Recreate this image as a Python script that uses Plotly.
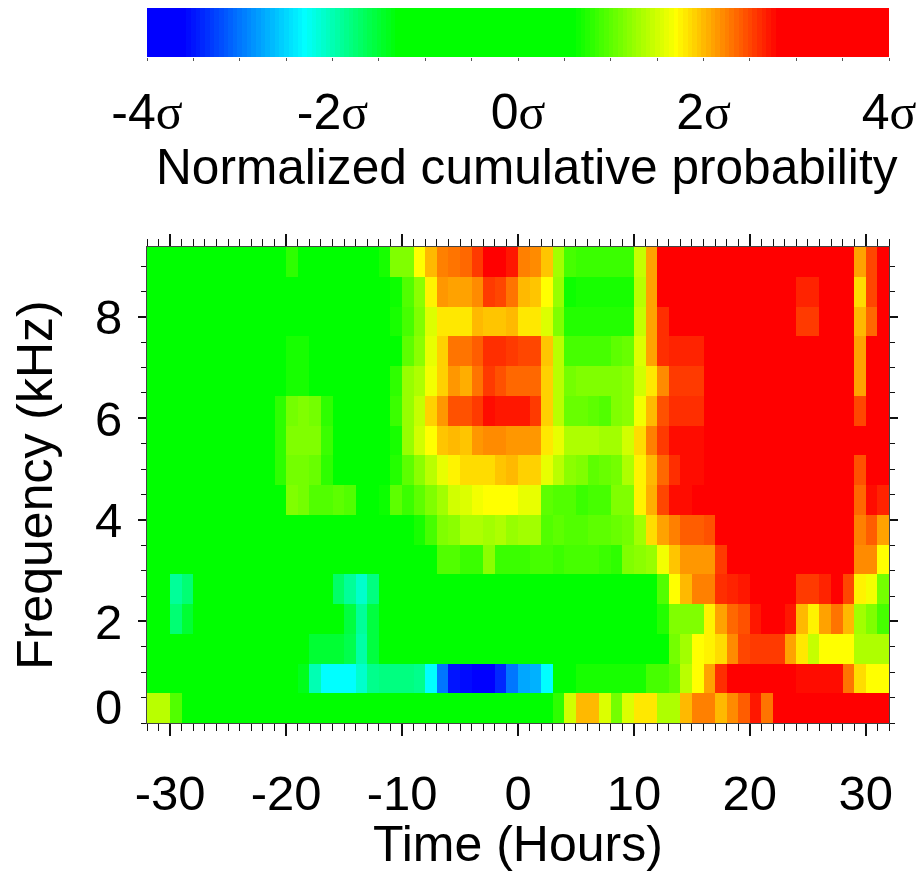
import plotly.graph_objects as go

W, H = 922, 872
R = 3.5  # saturated red cells

time_centers = [h + 0.5 for h in range(-32, 32)]
freq_centers = [(r + 0.5) * 0.5859375 for r in range(16)]

row00 = [1.4, 1.4, .95] + [0]*32 + [.8, 1.5, 2.0, 2.0, 1.55, 1.1, 1.55, 1.8, 1.8, 1.35, 1.35, 2.0, 2.25, 2.25, 2.0, 2.2, 2.4, 2.7, 2.3] + [3.3]*10
row01 = [0]*13 + [-1.4, -2.0, -2.3, -2.3, -2.3, -2.1, -1.85, -1.8, -1.8, -1.8, -1.85, -2.3, -3.0, -3.5, -3.55, -3.7, -3.7, -3.4, -3.0, -2.75, -2.7, -2.3, 0, .6, .7, .7, .7, .7, .7, .7, .9, .9, 1.0, 1.4, 1.7, 2.1, 2.6, 3.3, 3.3, 3.3, 3.3, 3.3, 3.3, 2.75, 2.75, 2.75, 2.75, 2.3, 1.85, 1.7, 1.7]
row02 = [0]*14 + [-1.5, -1.5, -1.5, -1.6, -1.95, -1.55] + [0]*25 + [1.1, 1.3, 1.7, 1.75, 1.85, 2.2, 2.5, 2.55, 2.55, 2.55, 2.1, 1.8, 1.45, 1.7, 1.7, 1.7, 1.35, 1.35, 1.35]
row03 = [0, 0, -1.75, -1.5] + [0]*13 + [-1.55, -1.9, -1.55] + [0]*24 + [.75, 1.15, 1.15, 1.15, 1.75, 2.1, 2.35, 2.45, 2.7, 3.2, 3.2, 2.7, 2.0, 1.75, 2.1, 2.3, 2.0, 1.3, 1.15, .9]
row04 = [0, 0, -1.9, -1.75] + [0]*12 + [-1.7, -1.9, -2.1, -1.8] + [0]*24 + [.95, 1.7, 2.0, 2.25, 2.25, 2.6, 2.65, 2.7, 3.2, 3.2, 3.2, 3.2, 2.55, 2.55, 2.65, 3.0, 2.5, 1.75, 1.65, 1.1]
row05 = [0]*24 + [.6, .95, .95, .85, .85, 1.2, .85, .85, .85, .9, .9, .85, .9, .9, .9, .85, .8, 1.15, 1.2, 1.25, 1.65, 1.95, 2.15, 2.15, 2.15, 2.55] + [R]*10 + [2.9, 2.2, 2.2, 1.7]
row06 = [0]*23 + [.7, .9, 1.15, 1.2, 1.35, 1.35, 1.3, 1.35, 1.25, 1.3, 1.3, .95, 1.0, .95, .95, 1.0, 1.0, 1.05, 1.1, 1.3, 1.85, 2.1, 2.25, 2.4, 2.4, 2.45] + [R]*12 + [2.25, 2.4, 2.1]
row07 = [0]*12 + [1.15, 1.1, .95, .95, 1.0, .95, 0, 0, .65, 1.0, .85, 1.0, 1.15, 1.3, 1.5, 1.55, 1.65, 1.7, 1.7, 1.7, 1.6, 1.6, 1.0, .95, .95, .85, .9, .9, 1.15, 1.15, 1.75, 2.05, 2.5, 2.75, 2.75, 2.8] + [R]*13 + [2.35, 2.75, 2.65]
row08 = [0]*11 + [.8, 1.1, 1.1, 1.05, .8] + [0]*5 + [.75, 1.0, 1.2, 1.4, 1.6, 1.75, 1.85, 1.85, 1.85, 1.95, 2.0, 1.9, 1.9, 1.6, 1.4, 1.2, 1.15, 1.0, 1.05, 1.1, 1.35, 1.75, 2.0, 2.35, 2.6, 2.75, 2.75] + [R]*13 + [2.45, R, R]
row09 = [0]*11 + [.8, 1.15, 1.15, 1.15, .85] + [0]*5 + [.7, 1.25, 1.5, 1.7, 1.95, 2.0, 1.95, 2.15, 2.2, 2.2, 2.15, 2.15, 2.15, 1.8, 1.6, 1.35, 1.35, 1.35, 1.3, 1.3, 1.5, 1.85, 2.25, 2.55, 2.75, 2.75, 2.75] + [R]*16
row10 = [0]*11 + [.8, 1.1, 1.15, 1.1, .8] + [0]*5 + [.85, 1.25, 1.45, 1.9, 2.15, 2.45, 2.45, 2.55, 2.75, 2.7, 2.7, 2.7, 2.55, 1.9, 1.4, 1.05, 1.05, 1.0, .95, 1.15, 1.2, 1.65, 2.0, 2.45, 2.6, 2.6, 2.6] + [R]*13 + [2.5, R, R]
row11 = [0]*12 + [.7, .7, .6] + [0]*6 + [.8, 1.25, 1.35, 1.65, 1.9, 2.15, 2.05, 2.3, 2.55, 2.45, 2.35, 2.35, 2.35, 1.9, 1.4, 1.1, 1.15, 1.15, 1.15, 1.15, 1.2, 1.5, 1.8, 2.2, 2.55, 2.55, 2.55] + [R]*13 + [2.1, R, R]
row12 = [0]*12 + [.7, .7] + [0]*7 + [.6, 1.0, 1.2, 1.6, 1.9, 2.3, 2.3, 2.4, 2.6, 2.6, 2.55, 2.5, 2.5, 1.95, 1.4, .9, .9, .9, .9, 1.0, 1.05, 1.55, 2.1, 2.6, 2.65, 2.65, 2.65] + [R]*8 + [2.8, 2.8] + [R]*3 + [2.1, R, R]
row13 = [0]*21 + [.7, .9, 1.15, 1.55, 1.8, 1.8, 1.8, 2.0, 1.95, 1.95, 2.0, 1.8, 1.8, 1.55, 1.15, .75, .75, .75, .75, .75, .75, 1.45, 2.1, 2.6, 2.8, 2.8, 2.8] + [R]*8 + [2.55, 2.55] + [R]*3 + [2.0, 2.35, 3.1]
row14 = [0]*21 + [.65, .95, 1.2, 1.75, 2.15, 2.1, 2.1, 2.2, 2.55, 2.5, 2.3, 2.0, 1.95, 1.7, 1.25, .65, .7, .7, .7, .7, .7, 1.4, 2.1] + [R]*12 + [2.65, 2.65] + [R]*3 + [1.85, 2.5, 3.2]
row15 = [0]*12 + [.8] + [0]*7 + [.7, 1.15, 1.15, 1.7, 2.0, 2.25, 2.3, 2.35, 2.55, 2.85, 2.85, 2.7, 2.25, 2.2, 1.95, 1.3, .9, .85, .85, .85, .85, .85, 1.45, 2.1] + [R]*17 + [2.1, 2.5, 3.2]

z_rows = [row00, row01, row02, row03, row04, row05, row06, row07,
          row08, row09, row10, row11, row12, row13, row14, row15]
for i, row in enumerate(z_rows):
    assert len(row) == 64, (i, len(row))

ramp_levels = [-4 + 0.05 * i for i in range(161)]
time_ticks = [-30, -20, -10, 0, 10, 20, 30]
time_labels = ["-30", "-20", "-10", "0", "10", "20", "30"]
freq_ticks = [2, 4, 6, 8]
sigma_ticks = [-4, -2, 0, 2, 4]
SIG = "<span style='font-family:Liberation Serif'>σ</span>"
sigma_labels = [f"{v}{SIG}" for v in sigma_ticks]

colorscale = [
    [0.0, "#0000ff"], [0.05, "#0000ff"], [0.2125, "#00ffff"], [0.3375, "#00ff00"],
    [0.575, "#00ff00"], [0.7125, "#ffff00"], [0.85, "#ff0000"], [1.0, "#ff0000"],
]
FONT = "Liberation Sans"
INK = "#111111"

fig = go.Figure()
fig.add_trace(go.Heatmap(x=time_centers, y=freq_centers, z=z_rows, zmin=-4, zmax=4,
                         colorscale=colorscale, showscale=False, xaxis="x", yaxis="y"))
fig.add_trace(go.Heatmap(x=ramp_levels, y=[0], z=[ramp_levels], zmin=-4, zmax=4,
                         colorscale=colorscale, showscale=False, xaxis="x2", yaxis="y2",
                         hoverinfo="skip"))

xd = [147 / W, 889 / W]
fig.update_layout(
    width=W, height=H, margin=dict(l=0, r=0, t=0, b=0),
    paper_bgcolor="white", plot_bgcolor="white", showlegend=False,
    font=dict(family=FONT, size=49, color="black"),
    xaxis=dict(domain=xd, range=[-32, 32], tickmode="array", tickvals=time_ticks, ticktext=time_labels,
               automargin=False,
               ticks="outside", ticklen=12, tickwidth=1.5, tickcolor=INK, mirror="allticks",
               minor=dict(dtick=1, ticks="outside", ticklen=7, tickwidth=1.2, tickcolor=INK),
               showgrid=False, zeroline=False, showline=True, linecolor="#444444", linewidth=1,
               ticklabelstandoff=15, tickfont=dict(size=49),
               title=dict(text="Time (Hours)", font=dict(size=50), standoff=8)),
    yaxis=dict(domain=[(H - 723) / H, (H - 247) / H], range=[0, 9.375], tickmode="array",
               automargin=False,
               tickvals=freq_ticks, ticks="outside", ticklen=8, tickwidth=1.5, tickcolor=INK, mirror="allticks",
               minor=dict(dtick=0.5, ticks="outside", ticklen=5, tickwidth=1.2, tickcolor=INK),
               showgrid=False, zeroline=False, showline=True, linecolor="#444444", linewidth=1,
               ticklabelstandoff=6, tickfont=dict(size=49),
               title=dict(text="Frequency (kHz)", font=dict(size=50), standoff=26)),
    xaxis2=dict(domain=xd, anchor="y2", range=[-4, 4], tickmode="array", tickvals=sigma_ticks,
                automargin=False,
                ticktext=sigma_labels, ticks="outside", ticklen=3, tickwidth=1, tickcolor="#555555",
                minor=dict(dtick=0.5, ticks="outside", ticklen=3, tickwidth=1, tickcolor="#555555"),
                showgrid=False, zeroline=False, showline=False, ticklabelstandoff=8,
                tickfont=dict(size=50)),
    yaxis2=dict(domain=[(H - 57) / H, (H - 8) / H], anchor="x2", range=[-0.5, 0.5], automargin=False,
                showticklabels=False, ticks="", showgrid=False, zeroline=False, showline=False),
    annotations=[
        dict(text="0", xref="x", yref="y", x=-32, y=0, xanchor="right", yanchor="middle",
             xshift=-23, yshift=16, showarrow=False, font=dict(size=49, family=FONT)),
        dict(text="Normalized cumulative probability", xref="paper", yref="paper",
             x=527 / W, y=1 - 167 / H, xanchor="center", yanchor="middle", showarrow=False,
             font=dict(size=49.6, family=FONT)),
    ],
)
fig.write_html("out.html", config=dict(displayModeBar=False),
               post_script="document.body.style.margin='0';document.body.style.overflow='hidden';")
